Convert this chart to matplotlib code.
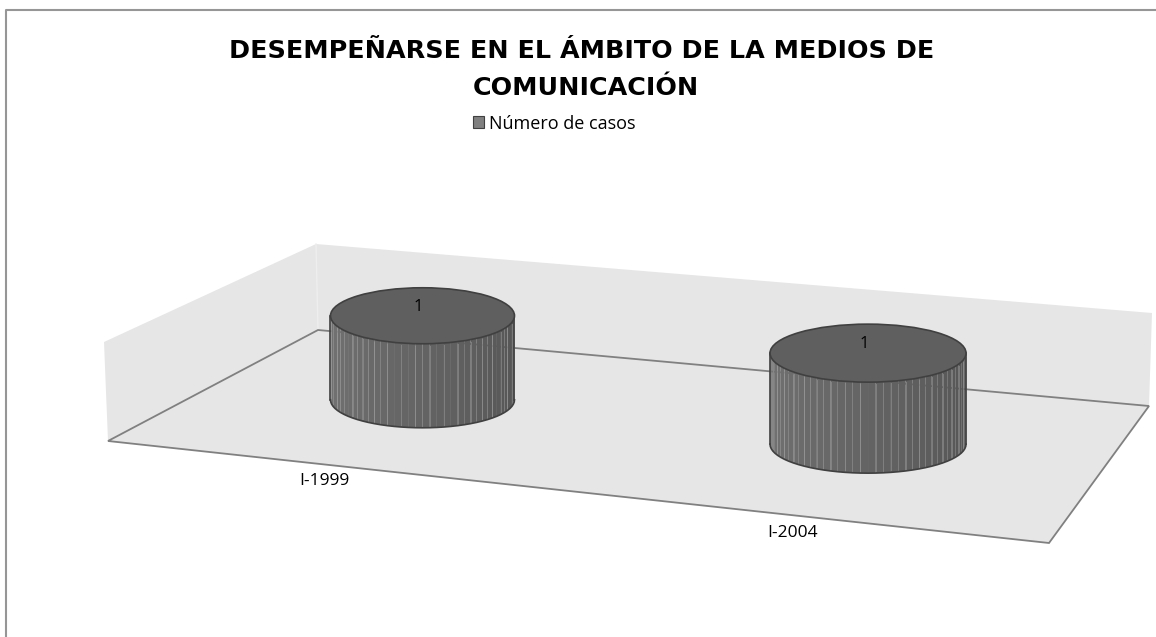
import numpy as np
import matplotlib
matplotlib.use('Agg')
import matplotlib.pyplot as plt
from matplotlib.patches import Patch, Polygon, Ellipse

# data
categories = ['I-1999', 'I-2004']
values = [1, 1]
series_name = 'Número de casos'
title_lines = ['DESEMPEÑARSE EN EL ÁMBITO DE LA MEDIOS DE', 'COMUNICACIÓN']

# 3d box of the chart, in picture pixels
floor_fl = np.array([108, 441])
floor_bl = np.array([318, 330])
floor_br = np.array([1149, 406])
floor_fr = np.array([1049, 543])
wall_left = np.array([104, 342])
wall_back = np.array([316, 244])
wall_right = np.array([1152, 313])

cat_pos = [0.226, 0.732]
depth = 0.55
radius_x = [92, 98]
radius_y = [28, 29]
height_per_unit = [84, 91]
label_pos = [0.230, 0.728]
label_drop = [16.5, 18]


def floor_point(u, v):
    front = floor_fl + u * (floor_fr - floor_fl)
    back = floor_bl + u * (floor_br - floor_bl)
    return front + v * (back - front)


def draw_cylinder(ax, cx, base_y, rx, ry, h):
    n = 40
    angles = np.linspace(np.pi, 0, n + 1)
    xs = cx + rx * np.cos(angles)
    ys = ry * np.sin(angles)
    for i in range(n):
        t = i / (n - 1)
        shade = 0.45 - 0.12 * t
        ax.add_patch(Polygon([(xs[i], base_y + ys[i]), (xs[i + 1], base_y + ys[i + 1]),
                              (xs[i + 1], base_y - h + ys[i + 1]), (xs[i], base_y - h + ys[i])],
                             closed=True, fc=str(shade), ec='none', zorder=3))
    for i in range(1, n, 2):
        ax.plot([xs[i], xs[i]], [base_y + ys[i] - 2, base_y - h + ys[i] + 2],
                color='#9a9a9a', lw=0.7, alpha=0.55, zorder=4)
    ax.plot(xs, base_y + ys, color='#404040', lw=1.2, zorder=5)
    ax.plot([xs[0], xs[0]], [base_y, base_y - h], color='#404040', lw=1.2, zorder=5)
    ax.plot([xs[-1], xs[-1]], [base_y, base_y - h], color='#404040', lw=1.2, zorder=5)
    ax.add_patch(Ellipse((cx, base_y - h), 2 * rx, 2 * ry, fc='#5f5f5f', ec='#404040', lw=1.2, zorder=6))


fig = plt.figure(figsize=(11.56, 6.37), dpi=100)
ax = fig.add_axes([0, 0, 1, 1])
ax.set_xlim(0, 1156)
ax.set_ylim(637, 0)
ax.axis('off')

# chart frame
ax.plot([6, 6, 1156], [637, 9.5, 9.5], color='#969696', lw=1.5)

# walls and floor
ax.add_patch(Polygon([wall_left, wall_back, floor_bl, floor_fl], fc='#e6e6e6', ec='none', zorder=1))
ax.add_patch(Polygon([wall_back, wall_right, floor_br, floor_bl], fc='#e6e6e6', ec='none', zorder=1))
ax.plot([wall_back[0], floor_bl[0]], [wall_back[1], floor_bl[1]], color='#eeeeee', lw=1, zorder=1)
ax.add_patch(Polygon([floor_fl, floor_bl, floor_br, floor_fr], fc='#e6e6e6', ec='#808080', lw=1.3, zorder=2))

for i, (cat, val) in enumerate(zip(categories, values)):
    cx, base_y = floor_point(cat_pos[i], depth)
    h = val * height_per_unit[i]
    draw_cylinder(ax, cx, base_y, radius_x[i], radius_y[i], h)
    ax.text(cx - 4, base_y - h - 9, str(val), ha='center', va='center', fontsize=12,
            family='Open Sans', color='black', zorder=7)
    lx, ly = floor_point(label_pos[i], 0)
    ax.text(lx, ly + label_drop[i], cat, ha='center', va='center', fontsize=12.5,
            family='Open Sans', color='black')

ax.text(582, 58, title_lines[0], ha='center', va='baseline', fontsize=18.3, fontweight='bold', family='DejaVu Sans')
ax.text(586, 95, title_lines[1], ha='center', va='baseline', fontsize=18.3, fontweight='bold', family='DejaVu Sans')

leg = ax.legend(handles=[Patch(fc='#808080', ec='#404040', lw=0.8, label=series_name)],
                loc='center left', bbox_to_anchor=(0.395, 0.806), frameon=False,
                prop={'family': 'Open Sans', 'size': 13}, handlelength=0.6, handleheight=0.6,
                handletextpad=0.3)

fig.savefig('out.png', dpi=100)
